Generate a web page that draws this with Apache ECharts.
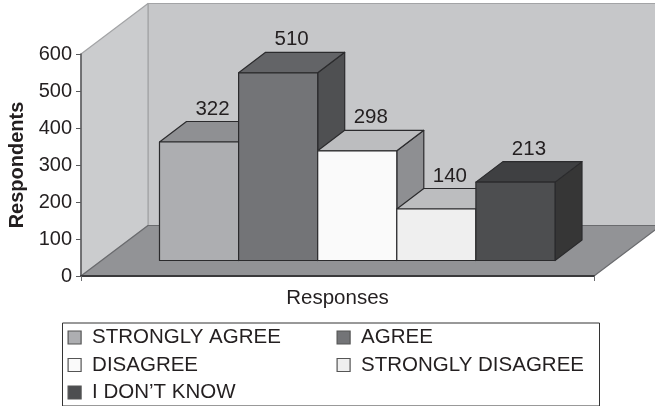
<!DOCTYPE html>
<html>
<head>
<meta charset="utf-8">
<style>html,body{margin:0;padding:0;background:#fff}#chart{width:655px;height:406px}</style>
<script src="https://cdn.jsdelivr.net/npm/echarts@6/dist/echarts.min.js"></script>
</head>
<body>
<div id="chart"></div>
<script>
// Survey responses, one block per answer
const categories = ['STRONGLY AGREE', 'AGREE', 'DISAGREE', 'STRONGLY DISAGREE', "I DON\u2019T KNOW"];
const responseCounts = [322, 510, 298, 140, 213];
const yTicks = [0, 600, 100]; // min, max, step

// Face shades of each block: front, top, side
const frontShades = ['#adaeb1', '#737477', '#fafafa', '#efefef', '#4d4e50'];
const topShades = ['#8f9093', '#636467', '#bcbdbf', '#bcbdbf', '#3f4042'];
const sideShades = ['#78797c', '#4f5052', '#8e8f92', '#8e8f92', '#363636'];

const INK = '#231f20';
const FONT = '"Liberation Sans", Arial, sans-serif';
const FONT_SIZE = 20.5;
const BLOCK_DEPTH = [27, 20.5];
const ROOM_DEPTH = [67, 50.5];

const chart = echarts.init(document.getElementById('chart'), null, {renderer: 'canvas'});

const poly = (points, fill, stroke, lineWidth) => ({
  type: 'polygon',
  shape: {points},
  style: {fill, stroke, lineWidth, lineJoin: 'round'}
});

// Side wall, back wall and floor of the box behind the blocks
function renderRoom(params) {
  const c = params.coordSys;
  const [dx, dy] = ROOM_DEPTH;
  const l = c.x, r = c.x + c.width, t = c.y, b = c.y + c.height;
  return {
    type: 'group',
    children: [
      poly([[l + dx, t - dy], [r + dx, t - dy], [r + dx, b - dy], [l + dx, b - dy]], '#c6c7c9', '#a3a4a6', 1.2),
      poly([[l, t], [l + dx, t - dy], [l + dx, b - dy], [l, b]], '#cbccce', '#a3a4a6', 1.2),
      poly([[l, b], [l + dx, b - dy], [r + dx, b - dy], [r, b]], '#929396', '#6a6b6e', 1.2)
    ]
  };
}

// One extruded block with its value printed above the rear edge
function renderBlock(params, api) {
  const i = api.value(0);
  const v = api.value(1);
  const top = api.coord([i, v]);
  const base = api.coord([i, 0]);
  const w = api.size([1, 0])[0];
  const [dx, dy] = BLOCK_DEPTH;
  const l = top[0] - w / 2, r = top[0] + w / 2, t = top[1], b = base[1];
  const edge = '#2b2b2d';
  return {
    type: 'group',
    children: [
      poly([[r, t], [r + dx, t - dy], [r + dx, b - dy], [r, b]], sideShades[i], edge, 1.2),
      poly([[l, t], [l + dx, t - dy], [r + dx, t - dy], [r, t]], topShades[i], edge, 1.2),
      poly([[l, t], [r, t], [r, b], [l, b]], frontShades[i], edge, 1.2),
      {
        type: 'text',
        style: {
          x: top[0] + dx / 2, y: t - dy - 12.5,
          text: String(v), fill: INK, font: FONT_SIZE + 'px ' + FONT,
          align: 'center', verticalAlign: 'middle'
        }
      }
    ]
  };
}

const blockSeries = categories.map((name, i) => ({
  name,
  type: 'custom',
  xAxisIndex: 1,
  yAxisIndex: 1,
  z: 2,
  clip: false,
  silent: true,
  itemStyle: {color: frontShades[i]},
  encode: {x: 0, y: 1},
  data: [[i, responseCounts[i]]],
  renderItem: renderBlock
}));

const legendBase = {
  orient: 'vertical',
  selectedMode: false,
  icon: 'rect',
  itemWidth: 13,
  itemHeight: 13,
  itemGap: 6.5,
  padding: 0,
  itemStyle: {borderColor: '#555', borderWidth: 1.2},
  textStyle: {color: INK, fontFamily: FONT, fontSize: FONT_SIZE, padding: [0, 0, 0, 6], height: 21, lineHeight: 21}
};

chart.setOption({
  animation: false,
  backgroundColor: '#fff',
  grid: [
    {left: 81, top: 54, width: 513, height: 222, outerBoundsMode: 'none'},
    {left: 159.5, top: 39.7, width: 395.5, height: 220.8, outerBoundsMode: 'none'}
  ],
  xAxis: [
    {
      type: 'category', gridIndex: 0, data: [''], z: 5,
      name: 'Responses', nameLocation: 'center', nameGap: 11.5,
      nameTextStyle: {color: INK, fontFamily: FONT, fontSize: FONT_SIZE},
      axisLine: {lineStyle: {color: '#3a3a3c', width: 2}},
      axisTick: {show: true, length: 5, alignWithLabel: false, lineStyle: {color: '#6a6b6e', width: 1}},
      axisLabel: {show: false}
    },
    {type: 'category', gridIndex: 1, data: categories, show: false}
  ],
  yAxis: [
    {
      type: 'value', gridIndex: 0, min: yTicks[0], max: yTicks[1], interval: yTicks[2], z: 5,
      name: 'Respondents', nameLocation: 'center', nameGap: 64, nameRotate: 90,
      nameTextStyle: {color: INK, fontFamily: FONT, fontSize: 20, fontWeight: 'bold', verticalAlign: 'middle'},
      axisLine: {show: true, lineStyle: {color: '#58595b', width: 1.5}},
      axisTick: {show: true, length: 5, lineStyle: {color: '#58595b', width: 1}},
      axisLabel: {color: INK, fontFamily: FONT, fontSize: 20, margin: 9, padding: [2, 0, 0, 0]},
      splitLine: {show: false}
    },
    {type: 'value', gridIndex: 1, min: yTicks[0], max: yTicks[1], show: false}
  ],
  legend: [
    Object.assign({}, legendBase, {left: 67.5, top: 327, data: [categories[0], categories[2], categories[4]]}),
    Object.assign({}, legendBase, {left: 336.5, top: 327, data: [categories[1], categories[3]]})
  ],
  graphic: [{
    type: 'rect', left: 62, top: 322.5, z: -1,
    shape: {width: 537, height: 83},
    style: {fill: '#fff', stroke: '#333', lineWidth: 1}
  }],
  series: [{
    type: 'custom',
    xAxisIndex: 0,
    yAxisIndex: 0,
    z: 0,
    clip: false,
    silent: true,
    data: [[0, 0]],
    encode: {y: 1},
    renderItem: renderRoom
  }].concat(blockSeries)
});
</script>
</body>
</html>
